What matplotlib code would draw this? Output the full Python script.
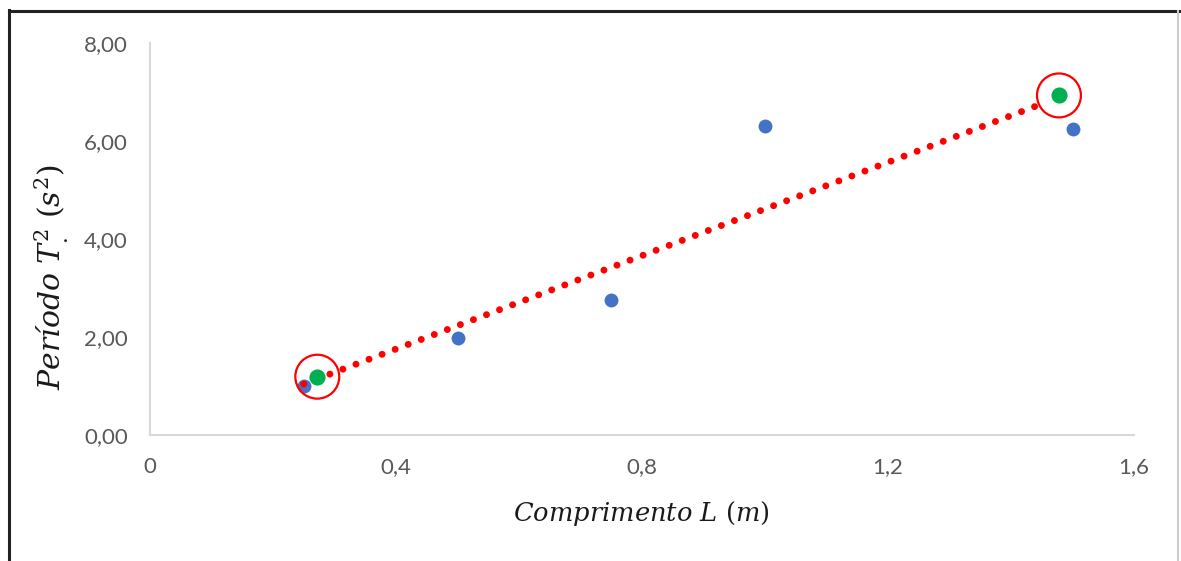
import matplotlib
matplotlib.use('Agg')
import matplotlib.pyplot as plt
from matplotlib.lines import Line2D

# measured points
L_blue = [0.25, 0.50, 0.75, 1.00, 1.50]
T2_blue = [1.00, 1.97, 2.76, 6.30, 6.24]

# highlighted points (green, circled)
L_green = [0.272, 1.478]
T2_green = [1.19, 6.93]

# trendline end points
L_trend = [0.25, 1.457]
T2_trend = [1.04, 6.79]

x_ticks = [0, 0.4, 0.8, 1.2, 1.6]
x_labels = ['0', '0,4', '0,8', '1,2', '1,6']
y_ticks = [0, 2, 4, 6, 8]
y_labels = ['0,00', '2,00', '4,00', '6,00', '8,00']

plt.rcParams['mathtext.fontset'] = 'dejavuserif'

W, H = 1181, 561
fig = plt.figure(figsize=(W/100, H/100), dpi=100)
ax = fig.add_axes([150/W, 1 - 435/H, (1134-150)/W, (435-43)/H])

ax.plot(L_trend, T2_trend, color='#FF0000', lw=5.0,
        linestyle=(0, (0.01, 2.0)), dash_capstyle='round', zorder=3)
ax.scatter(L_blue, T2_blue, s=100, color='#4472C4', zorder=2, linewidths=0)
ax.scatter(L_green, T2_green, s=135, color='#00B050', zorder=4, linewidths=0)
ax.scatter(L_green, T2_green, s=1000, facecolors='none', edgecolors='#FF0000',
           linewidths=1.6, zorder=5)

ax.set_xlim(0, 1.6)
ax.set_ylim(0, 8)
ax.set_xticks(x_ticks)
ax.set_xticklabels(x_labels)
ax.set_yticks(y_ticks)
ax.set_yticklabels(y_labels)
ax.tick_params(length=0, labelsize=16, labelcolor='#595959')
ax.tick_params(axis='y', pad=16)
ax.tick_params(axis='x', pad=16)
for lab in ax.get_xticklabels() + ax.get_yticklabels():
    lab.set_family('Lato')

for s in ['top', 'right']:
    ax.spines[s].set_visible(False)
for s in ['left', 'bottom']:
    ax.spines[s].set_color('#D9D9D9')
    ax.spines[s].set_linewidth(1.5)

fig.text(641/W, 1 - 513/H, r'$Comprimento\ L\ (m)$', fontsize=18.5,
         ha='center', va='center', color='#1a1a1a')
fig.text(52/W, 1 - 277/H, r'$Período\ T_{.}^{2}\ (s^{2})$', fontsize=21.5,
         ha='center', va='center', rotation=90, color='#1a1a1a')

# outer frame
fig.add_artist(Line2D([9.5/W, 9.5/W], [0, 1 - 10/H], color='#222222', lw=2.2))
fig.add_artist(Line2D([9.5/W, 1], [1 - 10.5/H, 1 - 10.5/H], color='#222222', lw=2.2))
fig.add_artist(Line2D([1178/W, 1178/W], [0, 1 - 11/H], color='#CCCCCC', lw=1.5))

fig.savefig('out.png', dpi=100)
